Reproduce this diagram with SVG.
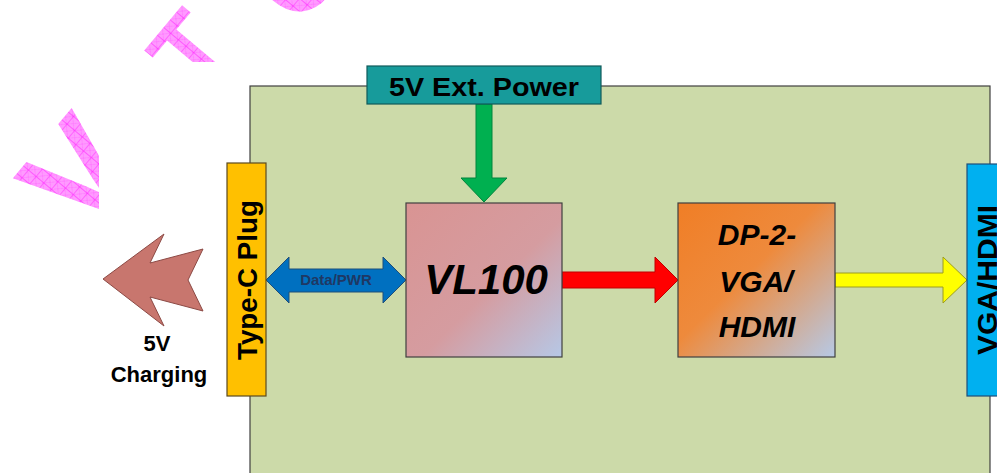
<svg xmlns="http://www.w3.org/2000/svg" width="997" height="473" viewBox="0 0 997 473">
<defs>
<pattern id="hatch" patternUnits="userSpaceOnUse" width="10" height="10">
<rect width="10" height="10" fill="#FF9AFF"/>
<path d="M0 0L10 10M10 0L0 10" stroke="#FF6CFF" stroke-width="0.6"/>
<path d="M0 0H10M0 0V10" stroke="#FF2EFF" stroke-width="1.2"/>
</pattern>
<linearGradient id="gVL" x1="0" y1="0" x2="1" y2="1">
<stop offset="0" stop-color="#D99493"/>
<stop offset="0.55" stop-color="#D59CA0"/>
<stop offset="1" stop-color="#B6C8E6"/>
</linearGradient>
<linearGradient id="gDP" x1="0" y1="0" x2="1" y2="1">
<stop offset="0" stop-color="#F07E26"/>
<stop offset="0.45" stop-color="#EE8A3C"/>
<stop offset="1" stop-color="#B6C9E6"/>
</linearGradient>
<style>
.wm{font-family:"Liberation Sans",Arial,sans-serif;font-weight:bold;fill:url(#hatch);text-anchor:middle}
.lbl{font-family:"Liberation Sans",Arial,sans-serif;font-weight:bold;fill:#000;text-anchor:middle}
.it{font-style:italic}
.box{stroke:#404040;stroke-width:1.2}
</style>
</defs>
<rect width="997" height="473" fill="#FFFFFF"/>
<g id="watermark">
<text class="wm" font-size="140" transform="translate(116,205) rotate(-50)">V</text>
<text class="wm" font-size="100" transform="translate(216,72) rotate(-50)">T</text>
<text class="wm" font-size="110" transform="translate(327,-4) rotate(-50)">O</text>
</g>
<rect x="99" y="62" width="898" height="411" fill="#FFFFFF"/>
<g id="board">
<rect x="250" y="86" width="740" height="400" fill="#CCDAA9" stroke="#404040" stroke-width="1.2"/>
</g>
<g id="connectors">
<polygon points="476,104 492,104 492,178 507,178 484,202 461,178 476,178" fill="#00B050" stroke="#00843C" stroke-width="1"/>
<polygon points="562,272 655,272 655,257 678,280 655,303 655,288 562,288" fill="#FF0000" stroke="#C00000" stroke-width="1"/>
<polygon points="835,273 943,273 943,257 967,280 943,303 943,287 835,287" fill="#FFFF00" stroke="#9C9C20" stroke-width="1"/>
<polygon points="266,280 289,257 289,269 383,269 383,257 406,280 383,303 383,292 289,292 289,303" fill="#0070C0" stroke="#1F4E79" stroke-width="1"/>
<text x="336" y="285" font-family="Liberation Sans,Arial,sans-serif" font-weight="bold" font-size="15" fill="#1F3864" text-anchor="middle">Data/PWR</text>
<polygon points="103,279 164,234 150,263 203,249 188,280 203,311 150,297 164,326" fill="#C8766E" stroke="#8C4A45" stroke-width="1"/>
</g>
<g id="ext-power">
<rect x="367" y="66" width="234" height="38" fill="#179B9B" stroke="#0F5A5A" stroke-width="1.2"/>
<text class="lbl" x="484" y="96" font-size="25" textLength="190" lengthAdjust="spacingAndGlyphs">5V Ext. Power</text>
</g>
<g id="type-c">
<rect x="227" y="163" width="39" height="233" fill="#FFC000" stroke="#5A4A20" stroke-width="1.2"/>
<text class="lbl" font-size="27" transform="translate(256.5,280) rotate(-90)" textLength="160" lengthAdjust="spacingAndGlyphs">Type-C Plug</text>
</g>
<g id="vl100">
<rect class="box" x="406" y="203" width="156" height="154" fill="url(#gVL)"/>
<text class="lbl it" x="486" y="294" font-size="42">VL100</text>
</g>
<g id="dp2vga">
<rect class="box" x="678" y="203" width="157" height="154" fill="url(#gDP)"/>
<text class="lbl it" x="757" y="245" font-size="30">DP-2-</text>
<text class="lbl it" x="756" y="292" font-size="30">VGA/</text>
<text class="lbl it" x="757" y="337" font-size="30">HDMI</text>
</g>
<g id="vga-hdmi">
<rect x="967" y="164" width="40" height="232" fill="#00B0F0" stroke="#1F4E79" stroke-width="1.2"/>
<text class="lbl" font-size="28" transform="translate(997,280) rotate(-90)" textLength="150" lengthAdjust="spacingAndGlyphs">VGA/HDMI</text>
</g>
<g id="charging">
<text class="lbl" x="157" y="351" font-size="22">5V</text>
<text class="lbl" x="159" y="382" font-size="22">Charging</text>
</g>
</svg>
